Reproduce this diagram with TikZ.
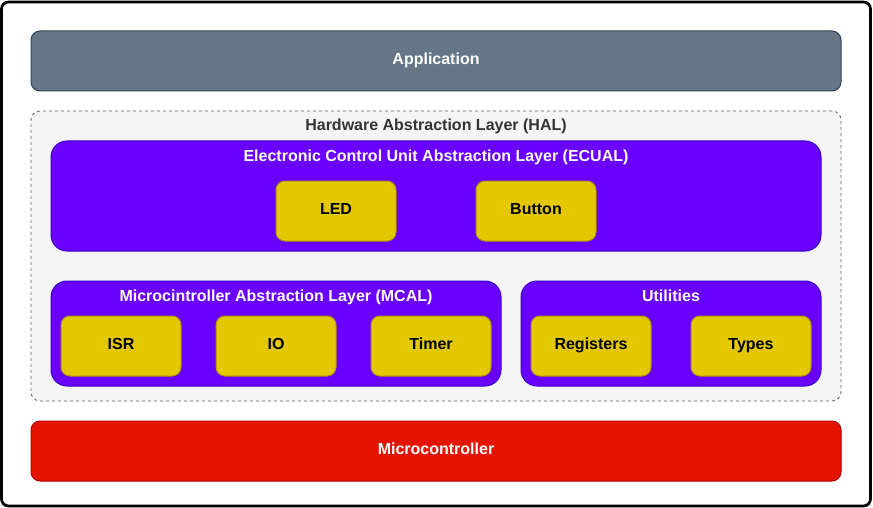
\documentclass[tikz,border=0pt]{standalone}
\usepackage{fontspec}
\setmainfont{Liberation Sans}
\definecolor{appfill}{HTML}{647687}
\definecolor{appdraw}{HTML}{314354}
\definecolor{halfill}{HTML}{F5F5F5}
\definecolor{haldraw}{HTML}{666666}
\definecolor{haltext}{HTML}{333333}
\definecolor{purfill}{HTML}{6A00FF}
\definecolor{purdraw}{HTML}{3700CC}
\definecolor{yelfill}{HTML}{E3C800}
\definecolor{yeldraw}{HTML}{B09500}
\definecolor{redfill}{HTML}{E51400}
\definecolor{reddraw}{HTML}{B20000}
\tikzset{
  lbl/.style={font=\fontsize{16}{19}\selectfont\bfseries, inner sep=0pt, text height=11.5pt, text depth=0pt},
  boxbase/.style={rectangle, inner sep=0pt, line width=1pt, lbl, text height=7.5pt},
  layerbox/.style={boxbase, minimum width=810pt, minimum height=60pt, rounded corners=9pt, text=white},
  purbox/.style={boxbase, fill=purfill, draw=purdraw, rounded corners=16pt},
  yelbox/.style={boxbase, fill=yelfill, draw=yeldraw, minimum width=120pt, minimum height=60pt, rounded corners=9pt, text=black},
  whitelbl/.style={lbl, text=white},
}
\begin{document}
\begin{tikzpicture}[x=1pt,y=-1pt]
\useasboundingbox (0,0) rectangle (873,508);
\node[rectangle, draw=black, line width=2.7pt, fill=white, rounded corners=7pt, minimum width=869pt, minimum height=504pt, inner sep=0pt] (frame) at (436,254) {};
\node[layerbox, fill=appfill, draw=appdraw] (app) at (436,61) {Application};
\node[rectangle, inner sep=0pt, fill=halfill, draw=haldraw, line width=0.8pt, dash pattern=on 3pt off 3pt, rounded corners=9pt, minimum width=810pt, minimum height=290pt] (hal) at (436,256) {};
\node[lbl, text=haltext] (haltitle) at (436,125) {Hardware Abstraction Layer (HAL)};
\node[purbox, minimum width=770pt, minimum height=110pt] (ecual) at (436,196) {};
\node[whitelbl] (ecualtitle) at (436,156) {Electronic Control Unit Abstraction Layer (ECUAL)};
\node[yelbox] (led) at (336,211) {LED};
\node[yelbox] (button) at (536,211) {Button};
\node[purbox, minimum width=450pt, minimum height=105pt] (mcal) at (276,333.5) {};
\node[whitelbl] (mcaltitle) at (276,296) {Microcintroller Abstraction Layer (MCAL)};
\node[yelbox] (isr) at (121,346) {ISR};
\node[yelbox] (io) at (276,346) {IO};
\node[yelbox] (timer) at (431,346) {Timer};
\node[purbox, minimum width=300pt, minimum height=105pt] (util) at (671,333.5) {};
\node[whitelbl] (utiltitle) at (671,296) {Utilities};
\node[yelbox] (registers) at (591,346) {Registers};
\node[yelbox] (types) at (751,346) {Types};
\node[layerbox, fill=redfill, draw=reddraw] (micro) at (436,451) {Microcontroller};
\end{tikzpicture}
\end{document}
